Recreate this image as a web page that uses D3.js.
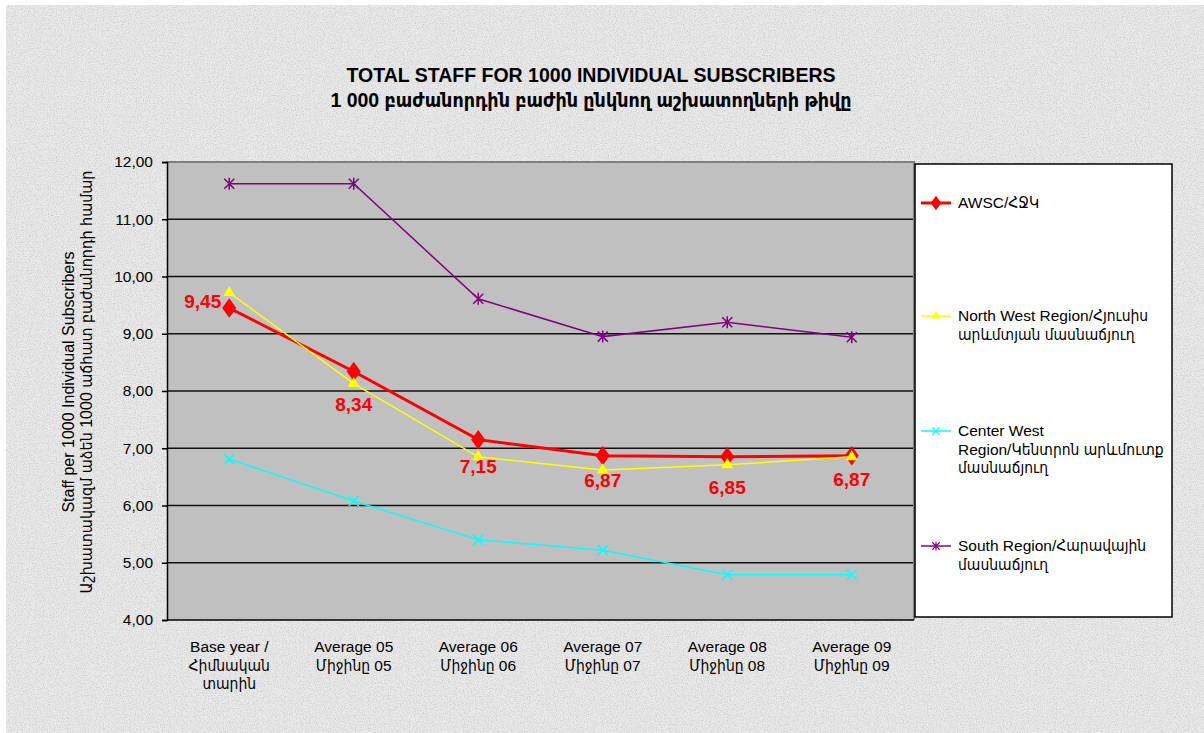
<!DOCTYPE html>
<html><head><meta charset="utf-8">
<script src="https://cdn.jsdelivr.net/npm/d3@7"></script>
<style>body{margin:0;background:#fff}svg{display:block;font-family:Arial,"Liberation Sans","DejaVu Sans Condensed",sans-serif}</style>
</head><body><svg id="c" width="1204" height="733"></svg>
<script>
const categories = [["Base year /","Հիմնական","տարին"],["Average 05","Միջինը 05"],["Average 06","Միջինը 06"],["Average 07","Միջինը 07"],["Average 08","Միջինը 08"],["Average 09","Միջինը 09"]];
const awsc = [9.45, 8.34, 7.15, 6.87, 6.85, 6.87];
const northWest = [9.72, 8.13, 6.85, 6.62, 6.71, 6.85];
const centerWest = [6.81, 6.08, 5.40, 5.22, 4.79, 4.79];
const south = [11.62, 11.62, 9.61, 8.95, 9.20, 8.94];
const yTicks = [4,5,6,7,8,9,10,11,12];
const titleLines = ["TOTAL STAFF FOR 1000 INDIVIDUAL SUBSCRIBERS","1 000 բաժանորդին բաժին ընկնող աշխատողների թիվը"];
const yLabelLines = ["Staff per 1000 Individual Subscribers","Աշխատակազմ աձեն 1000 աճհատ բաժանորդի համար"];
const seriesNames = [["AWSC/ՀՋԿ"],["North West Region/Հյուսիս","արևմտյան մասնաճյուղ"],["Center West","Region/Կենտրոն  արևմուտք","մասնաճյուղ"],["South Region/Հարավային","մասնաճյուղ"]];

const svg = d3.select("#c");
const defs = svg.append("defs");
const f = defs.append("filter").attr("id","tex").attr("x",0).attr("y",0).attr("width","100%").attr("height","100%");
f.append("feTurbulence").attr("type","fractalNoise").attr("baseFrequency",0.85).attr("numOctaves",2).attr("seed",3).attr("result","n");
f.append("feColorMatrix").attr("in","n").attr("type","matrix")
 .attr("values","0 0 0 0 0.6  0 0 0 0 0.6  0 0 0 0 0.6  0 0 0 -2.2 1.3").attr("result","m");
f.append("feComposite").attr("in","m").attr("in2","SourceGraphic").attr("operator","over");
svg.append("rect").attr("x",0).attr("y",0).attr("width",1204).attr("height",733).attr("fill","#fff");
svg.append("rect").attr("x",6).attr("y",5).attr("width",1198).attr("height",728).attr("fill","#eaeaea").attr("filter","url(#tex)");

const L=167, R=914, T=162, B=620;
const x = d3.scaleBand().domain(d3.range(categories.length)).range([L,R]);
const cx = i => x(i)+x.bandwidth()/2;
const y = d3.scaleLinear().domain([4,12]).range([B,T]);

svg.append("rect").attr("x",L).attr("y",T).attr("width",R-L).attr("height",B-T).attr("fill","#c0c0c0");
svg.append("g").selectAll("line").data(yTicks.slice(1)).join("line")
 .attr("x1",L).attr("x2",R).attr("y1",d=>y(d)).attr("y2",d=>y(d)).attr("stroke","#111").attr("stroke-width",1.5);
svg.append("path").attr("d",`M${L},${T}H${R}V${B}`).attr("fill","none").attr("stroke","#808080").attr("stroke-width",2);

const ya = svg.append("g").attr("transform",`translate(${L},0)`)
 .call(d3.axisLeft(y).tickValues(yTicks).tickSize(5).tickPadding(9).tickFormat(d=>d3.format(".2f")(d).replace(".",",")));
ya.select(".domain").attr("stroke","#000").attr("stroke-width",1.5);
ya.selectAll(".tick line").attr("stroke","#000").attr("stroke-width",1.5);
ya.selectAll("text").attr("font-size",15.5).attr("fill","#000").attr("font-family",null);
svg.append("line").attr("x1",L).attr("x2",R).attr("y1",B).attr("y2",B).attr("stroke","#000").attr("stroke-width",1.5);

const xl = svg.append("g");
categories.forEach((lines,i)=>{
  const t = xl.append("text").attr("text-anchor","middle").attr("font-size",15.5).attr("fill","#000");
  lines.forEach((s,j)=>t.append("tspan").attr("x",cx(i)).attr("y",652+j*18.5).text(s));
});

titleLines.forEach((s,j)=>svg.append("text").attr("x",591).attr("y",82+j*25).attr("text-anchor","middle")
 .attr("font-weight","bold").attr("font-size",19.5).attr("fill","#000").text(s));
yLabelLines.forEach((s,j)=>svg.append("text").attr("transform",`translate(${74+j*18},382) rotate(-90)`).attr("text-anchor","middle")
 .attr("font-size",16).attr("fill","#000").text(s));

const line = d3.line().x((d,i)=>cx(i)).y(d=>y(d));
const styles = [
 {data:awsc,color:"#ff0000",w:3,m:"diamond"},
 {data:northWest,color:"#ffff00",w:1.5,m:"triangle"},
 {data:centerWest,color:"#00ffff",w:1.5,m:"x"},
 {data:south,color:"#800080",w:1.5,m:"star"}
];
function marker(g,type,color,px,py,k){
  k = k||1;
  if(type==="diamond") g.append("path").attr("d",d3.symbol(d3.symbolDiamond,110*k*k)()).attr("transform",`translate(${px},${py}) scale(1.25,1)`).attr("fill",color);
  else if(type==="triangle") g.append("path").attr("d",d3.symbol(d3.symbolTriangle,60*k*k)()).attr("transform",`translate(${px},${py})`).attr("fill",color);
  else if(type==="x") g.append("path").attr("d","M-5,-5L5,5M-5,5L5,-5").attr("transform",`translate(${px},${py}) scale(${k})`).attr("stroke",color).attr("stroke-width",1.5);
  else g.append("path").attr("d","M-5,-5L5,5M-5,5L5,-5M0,-6V6").attr("transform",`translate(${px},${py}) scale(${k})`).attr("stroke",color).attr("stroke-width",1.5);
}
[3,2,0,1].forEach(k=>{
  const s=styles[k];
  const g=svg.append("g");
  g.append("path").attr("d",line(s.data)).attr("fill","none").attr("stroke",s.color).attr("stroke-width",s.w);
  s.data.forEach((v,i)=>marker(g,s.m,s.color,cx(i),y(v)));
});

const labelDx = [-8,0,0,0,0,0];
const labelDy = [0,39,33,31,37,30];
const lg = svg.append("g");
awsc.forEach((v,i)=>{
  lg.append("text").attr("x",cx(i)+labelDx[i]).attr("y",y(v)+labelDy[i]).attr("text-anchor",i===0?"end":"middle")
   .attr("font-weight","bold").attr("font-size",19).attr("fill","#ff0000").text(d3.format(".2f")(v).replace(".",","));
});

svg.append("rect").attr("x",915).attr("y",164).attr("width",257).attr("height",453).attr("fill","#fff").attr("stroke","#000").attr("stroke-width",1.5);
const legY=[203,316,431,546];
styles.forEach((s,k)=>{
  const g=svg.append("g");
  g.append("line").attr("x1",921).attr("x2",951).attr("y1",legY[k]).attr("y2",legY[k]).attr("stroke",s.color).attr("stroke-width",s.w);
  marker(g,s.m,s.color,936,legY[k],0.75);
  const t=g.append("text").attr("font-size",15.5).attr("fill","#000");
  seriesNames[k].forEach((n,j)=>t.append("tspan").attr("x",958).attr("y",legY[k]+5+j*18.5).text(n));
});
</script></body></html>
